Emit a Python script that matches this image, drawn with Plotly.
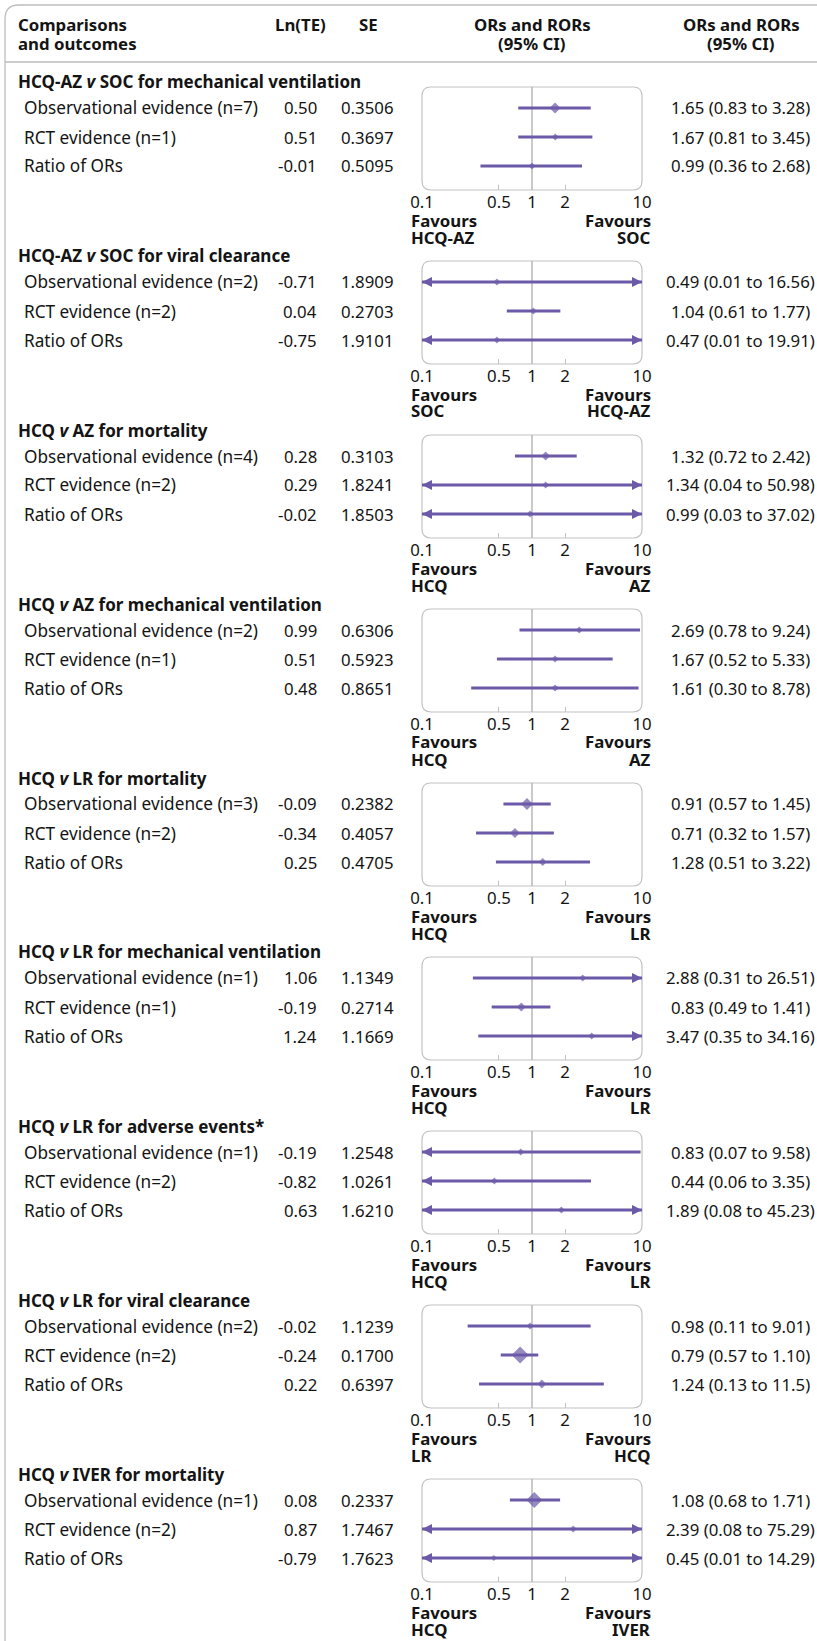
import plotly.graph_objects as go

W, H = 817, 1641

# ---------------- data ----------------
comparisons = [
    "HCQ-AZ <i>v</i> SOC for mechanical ventilation",
    "HCQ-AZ <i>v</i> SOC for viral clearance",
    "HCQ <i>v</i> AZ for mortality",
    "HCQ <i>v</i> AZ for mechanical ventilation",
    "HCQ <i>v</i> LR for mortality",
    "HCQ <i>v</i> LR for mechanical ventilation",
    "HCQ <i>v</i> LR for adverse events*",
    "HCQ <i>v</i> LR for viral clearance",
    "HCQ <i>v</i> IVER for mortality",
]
row_labels = [
    ["Observational evidence (n=7)", "RCT evidence (n=1)", "Ratio of ORs"],
    ["Observational evidence (n=2)", "RCT evidence (n=2)", "Ratio of ORs"],
    ["Observational evidence (n=4)", "RCT evidence (n=2)", "Ratio of ORs"],
    ["Observational evidence (n=2)", "RCT evidence (n=1)", "Ratio of ORs"],
    ["Observational evidence (n=3)", "RCT evidence (n=2)", "Ratio of ORs"],
    ["Observational evidence (n=1)", "RCT evidence (n=1)", "Ratio of ORs"],
    ["Observational evidence (n=1)", "RCT evidence (n=2)", "Ratio of ORs"],
    ["Observational evidence (n=2)", "RCT evidence (n=2)", "Ratio of ORs"],
    ["Observational evidence (n=1)", "RCT evidence (n=2)", "Ratio of ORs"],
]
ln_te = [
    [0.50, 0.51, -0.01],
    [-0.71, 0.04, -0.75],
    [0.28, 0.29, -0.02],
    [0.99, 0.51, 0.48],
    [-0.09, -0.34, 0.25],
    [1.06, -0.19, 1.24],
    [-0.19, -0.82, 0.63],
    [-0.02, -0.24, 0.22],
    [0.08, 0.87, -0.79],
]
se = [
    [0.3506, 0.3697, 0.5095],
    [1.8909, 0.2703, 1.9101],
    [0.3103, 1.8241, 1.8503],
    [0.6306, 0.5923, 0.8651],
    [0.2382, 0.4057, 0.4705],
    [1.1349, 0.2714, 1.1669],
    [1.2548, 1.0261, 1.6210],
    [1.1239, 0.1700, 0.6397],
    [0.2337, 1.7467, 1.7623],
]
or_labels = [
    ["1.65 (0.83 to 3.28)", "1.67 (0.81 to 3.45)", "0.99 (0.36 to 2.68)"],
    ["0.49 (0.01 to 16.56)", "1.04 (0.61 to 1.77)", "0.47 (0.01 to 19.91)"],
    ["1.32 (0.72 to 2.42)", "1.34 (0.04 to 50.98)", "0.99 (0.03 to 37.02)"],
    ["2.69 (0.78 to 9.24)", "1.67 (0.52 to 5.33)", "1.61 (0.30 to 8.78)"],
    ["0.91 (0.57 to 1.45)", "0.71 (0.32 to 1.57)", "1.28 (0.51 to 3.22)"],
    ["2.88 (0.31 to 26.51)", "0.83 (0.49 to 1.41)", "3.47 (0.35 to 34.16)"],
    ["0.83 (0.07 to 9.58)", "0.44 (0.06 to 3.35)", "1.89 (0.08 to 45.23)"],
    ["0.98 (0.11 to 9.01)", "0.79 (0.57 to 1.10)", "1.24 (0.13 to 11.5)"],
    ["1.08 (0.68 to 1.71)", "2.39 (0.08 to 75.29)", "0.45 (0.01 to 14.29)"],
]
# plotted estimates and interval ends (as drawn in the chart)
est = [
    [1.62, 1.63, 1.00],
    [0.48, 1.03, 0.48],
    [1.33, 1.33, 0.96],
    [2.69, 1.62, 1.62],
    [0.90, 0.70, 1.25],
    [2.89, 0.80, 3.49],
    [0.79, 0.455, 1.85],
    [0.96, 0.78, 1.23],
    [1.05, 2.37, 0.45],
]
lo = [
    [0.75, 0.75, 0.34],
    [0.01, 0.59, 0.01],
    [0.70, 0.04, 0.03],
    [0.77, 0.48, 0.28],
    [0.55, 0.31, 0.47],
    [0.29, 0.43, 0.325],
    [0.07, 0.06, 0.08],
    [0.26, 0.52, 0.33],
    [0.63, 0.08, 0.01],
]
hi = [
    [3.42, 3.54, 2.85],
    [16.56, 1.81, 19.91],
    [2.55, 50.98, 37.02],
    [9.6, 5.41, 9.3],
    [1.48, 1.58, 3.37],
    [26.51, 1.47, 34.16],
    [9.7, 3.44, 45.23],
    [3.41, 1.14, 4.5],
    [1.80, 75.29, 14.29],
]
favours_left = ["HCQ-AZ", "SOC", "HCQ", "HCQ", "HCQ", "HCQ", "HCQ", "LR", "HCQ"]
favours_right = ["SOC", "HCQ-AZ", "AZ", "AZ", "LR", "LR", "LR", "HCQ", "IVER"]
tick_vals = [0.1, 0.5, 1, 2, 10]
tick_text = ["0.1", "0.5", "1", "2", "10"]
minor_tick_vals = [0.5, 2]

# ---------------- style ----------------
marker_w = [  # diamond widths in px (study weight)
    [11, 7, 7], [7, 7, 7], [9, 7, 7], [7, 7, 7], [12, 10, 8],
    [7, 9, 7], [7, 7, 7], [7, 17, 9], [16, 7, 6],
]
FONT = "Noto Sans"
FS = 16.8
FS_LABEL = 17.2
FS_TITLE = 17.0
TXT = "#141414"
PURPLE = "#6c5aa8"
VLINE = "#b3b3b3"
BOXC = "#c2c2c2"

STEP = 174
TITLE_Y, BOX_T, BOX_B, ROW0, ROW_STEP = 82, 87, 190, 108, 29
FAV1, FAV2 = 220, 237
PX0, PX1 = 422, 642
X_LABEL, X_LN, X_SE, X_OR = 23, 318, 395, 740


def px(x):
    return x / W


def py(y):
    return 1 - y / H


annotations = []


def add_text(x, y, text, xanchor="left", bold=False, size=FS):
    annotations.append(dict(
        x=px(x), y=py(y), xref="paper", yref="paper",
        text=f"<b>{text}</b>" if bold else text, showarrow=False,
        xanchor=xanchor, yanchor="middle", borderpad=0,
        font=dict(family=FONT, size=size, color=TXT)))


def rrect(x0, y0, x1, y1, r):
    rx, ry = r / W, r / H
    X0, X1, Y0, Y1 = px(x0), px(x1), py(y0), py(y1)
    return (f"M{X0+rx},{Y0} L{X1-rx},{Y0} Q{X1},{Y0} {X1},{Y0-ry} "
            f"L{X1},{Y1+ry} Q{X1},{Y1} {X1-rx},{Y1} L{X0+rx},{Y1} "
            f"Q{X0},{Y1} {X0},{Y1+ry} L{X0},{Y0-ry} Q{X0},{Y0} {X0+rx},{Y0} Z")


shapes = [
    dict(type="path", xref="paper", yref="paper", path=rrect(5, 5, 850, 1680, 14),
         line=dict(color="#bdbdbd", width=1.3), layer="below"),
    dict(type="line", xref="paper", yref="paper", x0=px(5), x1=px(817), y0=py(62), y1=py(62),
         line=dict(color="#bdbdbd", width=1.3), layer="below"),
]

# headers
add_text(17, 25, "Comparisons", bold=True)
add_text(17, 43, "and outcomes", bold=True)
add_text(X_LN + 9, 25, "Ln(TE)", xanchor="right", bold=True)
add_text(379, 25, "SE", xanchor="right", bold=True)
for cx in (532, 741):
    add_text(cx, 25, "ORs and RORs", xanchor="center", bold=True)
    add_text(cx, 43, "(95% CI)", xanchor="center", bold=True)

fig = go.Figure()
layout_axes = {}
for k in range(9):
    off = k * STEP
    sfx = "" if k == 0 else str(k + 1)
    xname, yname = "x" + sfx, "y" + sfx
    y_lo = (BOX_T - ROW0) / ROW_STEP
    y_hi = (BOX_B - ROW0) / ROW_STEP
    layout_axes["xaxis" + sfx] = dict(
        type="log", range=[-1, 1], domain=[px(PX0), px(PX1)], anchor=yname,
        tickmode="array", tickvals=tick_vals, ticktext=tick_text, ticks="",
        showgrid=False, zeroline=False, showline=False, fixedrange=True,
        automargin=False,
        tickfont=dict(family=FONT, size=FS, color=TXT),
        minor=dict(tickmode="array", tickvals=minor_tick_vals, ticks="inside",
                   ticklen=5, tickwidth=1, tickcolor=BOXC, showgrid=False),
    )
    layout_axes["yaxis" + sfx] = dict(
        range=[y_hi, y_lo], domain=[py(BOX_B + off), py(BOX_T + off)], anchor=xname,
        visible=False, fixedrange=True, automargin=False)

    shapes.append(dict(type="path", xref="paper", yref="paper",
                       path=rrect(PX0, BOX_T + off, PX1, BOX_B + off, 9),
                       line=dict(color=BOXC, width=1.2), layer="below"))
    shapes.append(dict(type="line", xref=xname, yref=yname + " domain", x0=1, x1=1, y0=0, y1=1,
                       line=dict(color=VLINE, width=1.4), layer="below"))

    lx, ly = [], []
    al_y, ar_y = [], []
    for i in range(3):
        a = max(lo[k][i], tick_vals[0])
        b = min(hi[k][i], tick_vals[-1])
        lx += [a, b, None]
        ly += [i, i, None]
        if lo[k][i] < tick_vals[0]:
            al_y.append(i)
        if hi[k][i] > tick_vals[-1]:
            ar_y.append(i)
    fig.add_trace(go.Scatter(x=lx, y=ly, mode="lines", xaxis=xname, yaxis=yname,
                             line=dict(color=PURPLE, width=2.8), hoverinfo="skip"))
    if al_y:
        fig.add_trace(go.Scatter(x=[tick_vals[0]] * len(al_y), y=al_y, mode="markers",
                                 xaxis=xname, yaxis=yname, cliponaxis=False,
                                 marker=dict(symbol="arrow-left", size=10, color=PURPLE,
                                             line=dict(width=0)), hoverinfo="skip"))
    if ar_y:
        fig.add_trace(go.Scatter(x=[tick_vals[-1]] * len(ar_y), y=ar_y, mode="markers",
                                 xaxis=xname, yaxis=yname, cliponaxis=False,
                                 marker=dict(symbol="arrow-right", size=10, color=PURPLE,
                                             line=dict(width=0)), hoverinfo="skip"))
    fig.add_trace(go.Scatter(x=est[k], y=[0, 1, 2], mode="markers", xaxis=xname, yaxis=yname,
                             cliponaxis=False,
                             marker=dict(symbol="diamond", size=[w / 1.3 for w in marker_w[k]],
                                         color=PURPLE, line=dict(width=0)),
                             hoverinfo="skip"))

    add_text(17, TITLE_Y + off, comparisons[k], bold=True, size=FS_TITLE)
    for i in range(3):
        yy = ROW0 + off + i * ROW_STEP
        add_text(X_LABEL, yy, row_labels[k][i], size=FS_LABEL)
        add_text(X_LN, yy, f"{ln_te[k][i]:.2f}", xanchor="right")
        add_text(X_SE, yy, f"{se[k][i]:.4f}", xanchor="right")
        add_text(X_OR, yy, or_labels[k][i], xanchor="center")
    add_text(410, FAV1 + off, "Favours", bold=True)
    add_text(410, FAV2 + off, favours_left[k], bold=True)
    add_text(652, FAV1 + off, "Favours", xanchor="right", bold=True)
    add_text(652, FAV2 + off, favours_right[k], xanchor="right", bold=True)

fig.update_layout(
    width=W, height=H, margin=dict(l=0, r=0, t=0, b=0, autoexpand=False),
    paper_bgcolor="white", plot_bgcolor="rgba(0,0,0,0)",
    showlegend=False, shapes=shapes, annotations=annotations,
    font=dict(family=FONT, size=FS, color=TXT),
    **layout_axes,
)
fig.write_html(
    "out.html",
    config={"displayModeBar": False},
    post_script="document.body.style.margin='0px';document.body.style.overflow='hidden';",
)
